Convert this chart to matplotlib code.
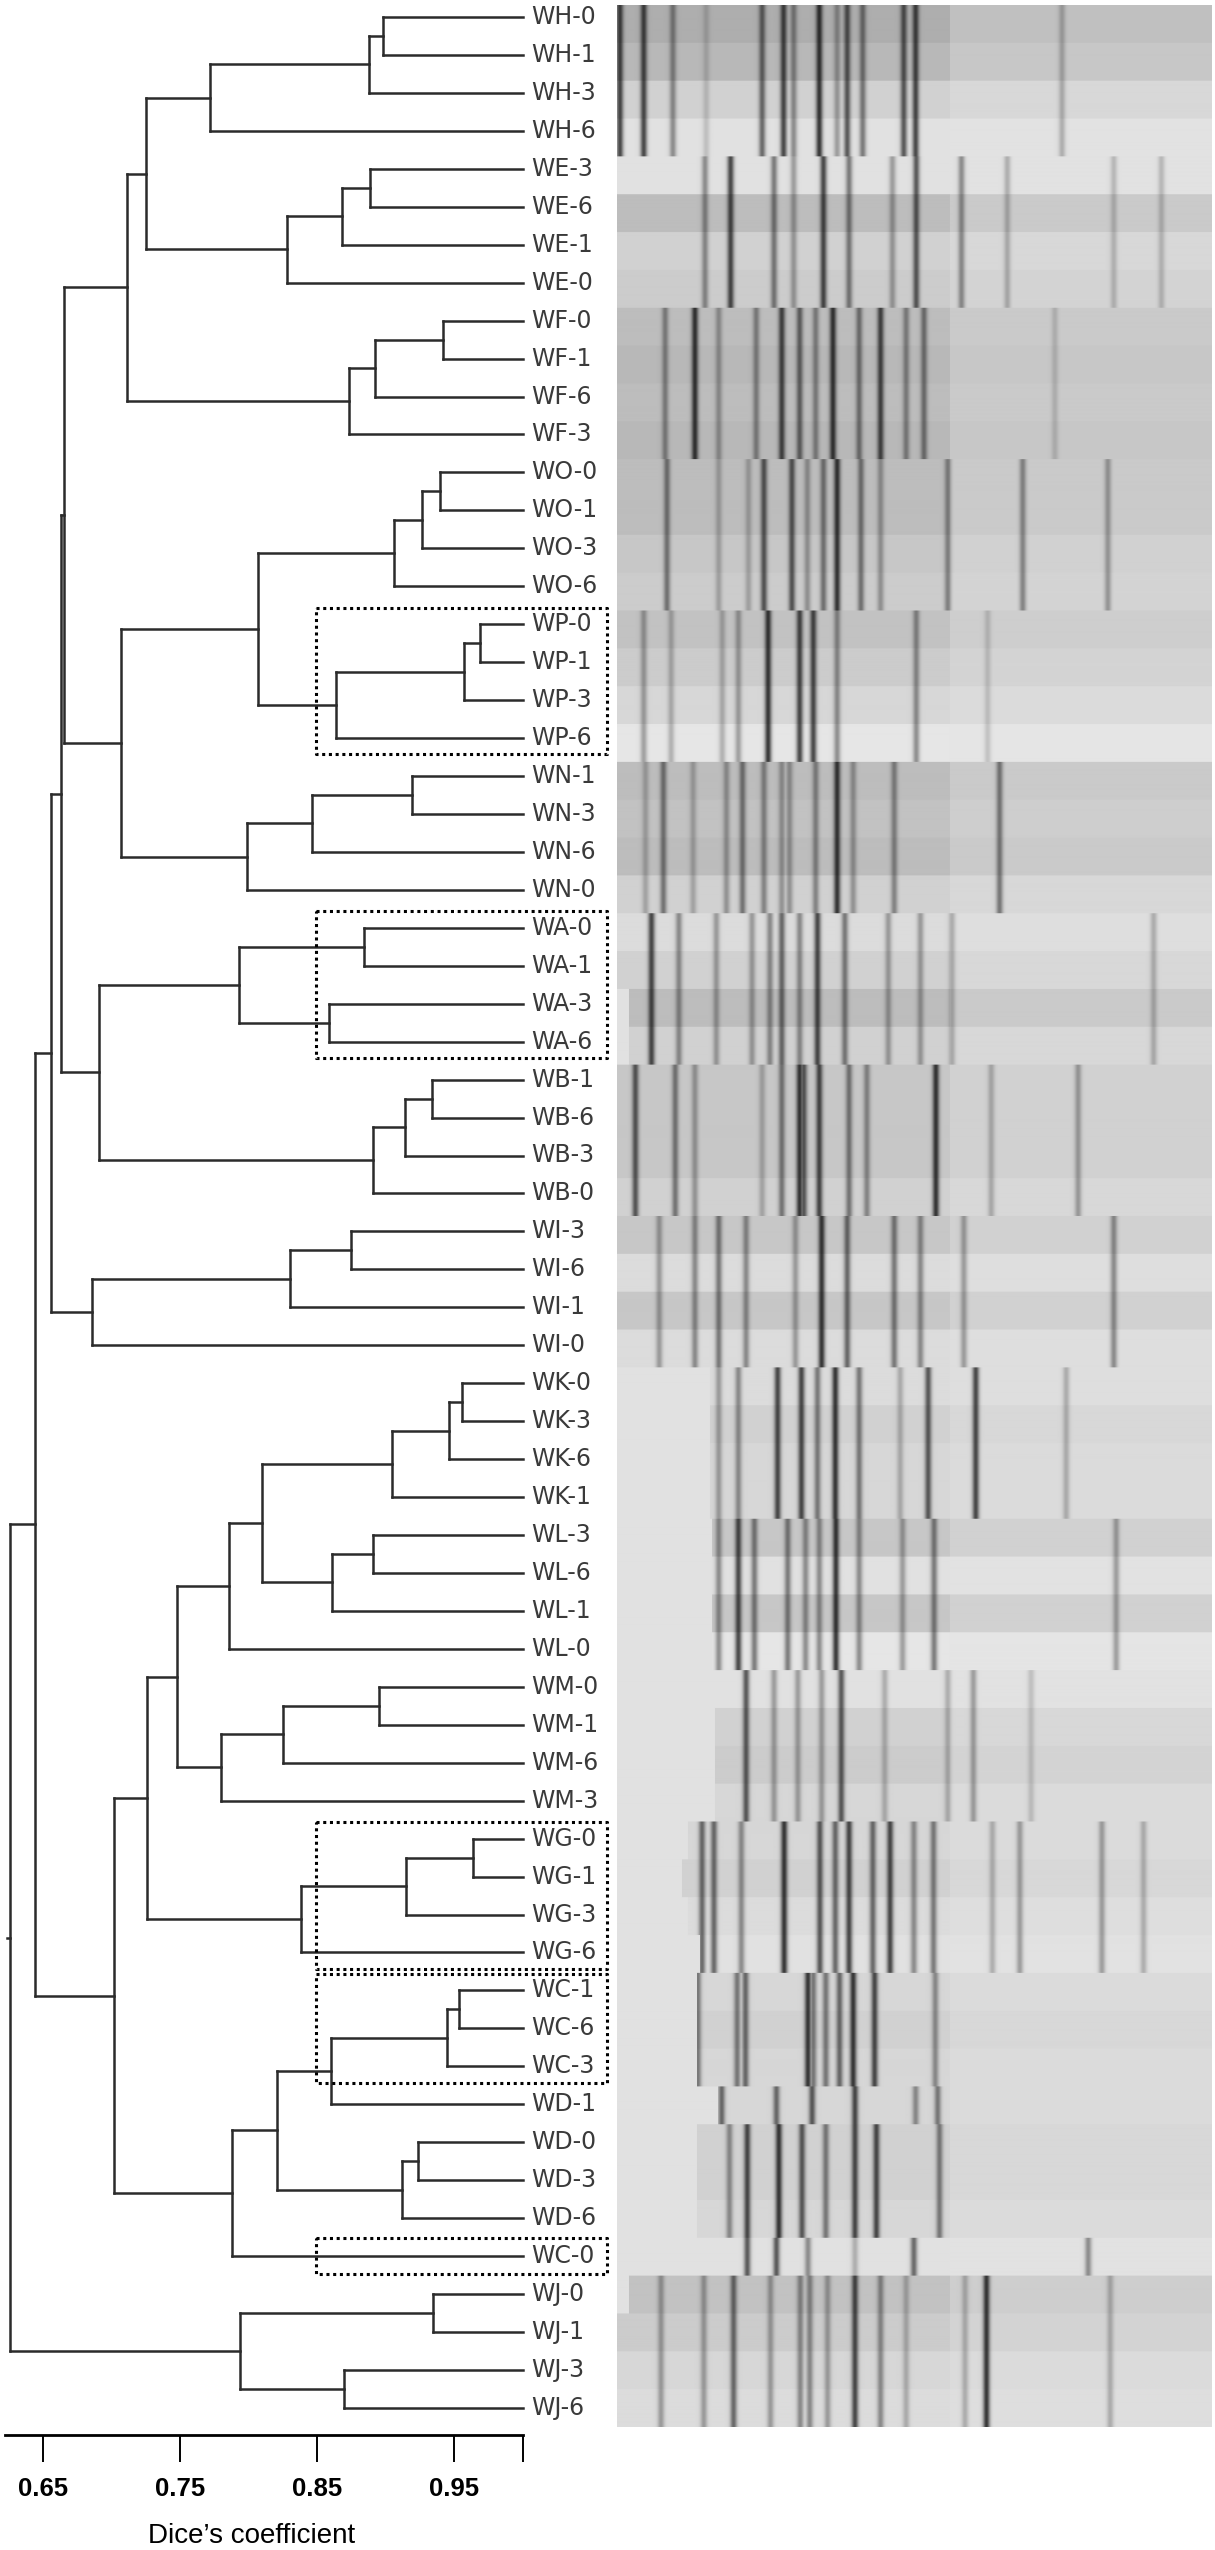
import numpy as np
import matplotlib.pyplot as plt
from matplotlib.collections import LineCollection
from matplotlib.transforms import blended_transform_factory

# 葉の並び（上から下）
leaves = [
    "WH-0", "WH-1", "WH-3", "WH-6", "WE-3", "WE-6", "WE-1", "WE-0",
    "WF-0", "WF-1", "WF-6", "WF-3", "WO-0", "WO-1", "WO-3", "WO-6",
    "WP-0", "WP-1", "WP-3", "WP-6", "WN-1", "WN-3", "WN-6", "WN-0",
    "WA-0", "WA-1", "WA-3", "WA-6", "WB-1", "WB-6", "WB-3", "WB-0",
    "WI-3", "WI-6", "WI-1", "WI-0", "WK-0", "WK-3", "WK-6", "WK-1",
    "WL-3", "WL-6", "WL-1", "WL-0", "WM-0", "WM-1", "WM-6", "WM-3",
    "WG-0", "WG-1", "WG-3", "WG-6", "WC-1", "WC-6", "WC-3", "WD-1",
    "WD-0", "WD-3", "WD-6", "WC-0", "WJ-0", "WJ-1", "WJ-3", "WJ-6",
]

# 結合 (ノード名, 子1, 子2, Dice 係数)
merges = [
    ("H01", "WH-0", "WH-1", 0.898), ("H013", "H01", "WH-3", 0.888),
    ("H", "H013", "WH-6", 0.772),
    ("E36", "WE-3", "WE-6", 0.889), ("E361", "E36", "WE-1", 0.868),
    ("E", "E361", "WE-0", 0.828), ("HE", "H", "E", 0.725),
    ("F01", "WF-0", "WF-1", 0.942), ("F016", "F01", "WF-6", 0.892),
    ("F", "F016", "WF-3", 0.873), ("HEF", "HE", "F", 0.711),
    ("O01", "WO-0", "WO-1", 0.940), ("O013", "O01", "WO-3", 0.927),
    ("O", "O013", "WO-6", 0.906),
    ("P01", "WP-0", "WP-1", 0.969), ("P013", "P01", "WP-3", 0.957),
    ("P", "P013", "WP-6", 0.864), ("OP", "O", "P", 0.807),
    ("N13", "WN-1", "WN-3", 0.919), ("N136", "N13", "WN-6", 0.846),
    ("N", "N136", "WN-0", 0.799), ("OPN", "OP", "N", 0.707),
    ("X1", "HEF", "OPN", 0.665),
    ("A01", "WA-0", "WA-1", 0.884), ("A36", "WA-3", "WA-6", 0.859),
    ("A", "A01", "A36", 0.793),
    ("B16", "WB-1", "WB-6", 0.934), ("B163", "B16", "WB-3", 0.914),
    ("B", "B163", "WB-0", 0.891), ("AB", "A", "B", 0.691),
    ("X2", "X1", "AB", 0.663),
    ("I36", "WI-3", "WI-6", 0.875), ("I361", "I36", "WI-1", 0.830),
    ("I", "I361", "WI-0", 0.686), ("X3", "X2", "I", 0.656),
    ("K03", "WK-0", "WK-3", 0.956), ("K036", "K03", "WK-6", 0.946),
    ("K", "K036", "WK-1", 0.905),
    ("L36", "WL-3", "WL-6", 0.891), ("L", "L36", "WL-1", 0.861),
    ("KL", "K", "L", 0.810), ("KL0", "KL", "WL-0", 0.786),
    ("M01", "WM-0", "WM-1", 0.895), ("M016", "M01", "WM-6", 0.825),
    ("M", "M016", "WM-3", 0.780), ("KLM", "KL0", "M", 0.748),
    ("G01", "WG-0", "WG-1", 0.964), ("G013", "G01", "WG-3", 0.915),
    ("G", "G013", "WG-6", 0.838), ("KLMG", "KLM", "G", 0.726),
    ("C16", "WC-1", "WC-6", 0.954), ("C", "C16", "WC-3", 0.945),
    ("CD1", "C", "WD-1", 0.860),
    ("D03", "WD-0", "WD-3", 0.924), ("D", "D03", "WD-6", 0.912),
    ("CD", "CD1", "D", 0.821), ("CDC0", "CD", "WC-0", 0.788),
    ("Y1", "KLMG", "CDC0", 0.702), ("X4", "X3", "Y1", 0.644),
    ("J01", "WJ-0", "WJ-1", 0.935), ("J36", "WJ-3", "WJ-6", 0.870),
    ("J", "J01", "J36", 0.794), ("root", "X4", "J", 0.626),
]
root_stub = 0.6235

# 点線枠 (最初の葉, 最後の葉)
boxes = [("WP-0", "WP-6"), ("WA-0", "WA-6"), ("WG-0", "WG-6"),
         ("WC-1", "WC-3"), ("WC-0", "WC-0")]

ticks = [0.65, 0.75, 0.85, 0.95, 1.0]
tick_labels = ["0.65", "0.75", "0.85", "0.95", ""]

# ゲル: 各グループのバンド位置 (ゲル幅に対する割合, 濃さ)
bands_WH = [(0.005, 0.9), (0.045, 0.9), (0.094, 0.5), (0.150, 0.2), (0.244, 0.7), (0.280, 0.9),
            (0.297, 0.5), (0.340, 1.0), (0.370, 0.4), (0.387, 0.8), (0.413, 0.6), (0.482, 0.8),
            (0.502, 0.9), (0.748, 0.3)]
bands_WE = [(0.148, 0.5), (0.191, 0.9), (0.264, 0.6), (0.297, 0.4), (0.347, 0.9), (0.390, 0.6),
            (0.463, 0.4), (0.503, 0.8), (0.579, 0.5), (0.656, 0.3), (0.835, 0.25), (0.915, 0.25)]
bands_WF = [(0.081, 0.5), (0.131, 1.0), (0.171, 0.4), (0.234, 0.5), (0.277, 0.9), (0.307, 0.7),
            (0.334, 0.5), (0.363, 1.0), (0.407, 0.6), (0.443, 0.9), (0.486, 0.5), (0.516, 0.6),
            (0.736, 0.2)]
bands_WO = [(0.084, 0.6), (0.171, 0.3), (0.221, 0.3), (0.247, 0.8), (0.294, 0.8), (0.320, 0.4),
            (0.347, 0.6), (0.370, 1.0), (0.410, 0.6), (0.443, 0.4), (0.556, 0.5), (0.682, 0.5),
            (0.825, 0.4)]
bands_WP = [(0.045, 0.4), (0.091, 0.3), (0.177, 0.3), (0.204, 0.4), (0.254, 1.0), (0.307, 0.9),
            (0.330, 0.9), (0.370, 0.5), (0.503, 0.5), (0.623, 0.2)]
bands_WN = [(0.048, 0.3), (0.078, 0.6), (0.128, 0.3), (0.184, 0.4), (0.211, 0.6), (0.247, 0.5),
            (0.277, 0.4), (0.290, 0.4), (0.334, 0.5), (0.370, 1.0), (0.397, 0.4), (0.466, 0.5),
            (0.643, 0.6)]
bands_WA = [(0.058, 0.9), (0.104, 0.5), (0.167, 0.4), (0.227, 0.4), (0.257, 0.5), (0.277, 0.7),
            (0.307, 0.5), (0.337, 0.9), (0.383, 0.6), (0.456, 0.4), (0.510, 0.4), (0.563, 0.3),
            (0.902, 0.3)]
bands_WB = [(0.031, 0.8), (0.098, 0.6), (0.131, 0.4), (0.244, 0.3), (0.277, 0.6), (0.307, 1.0),
            (0.314, 0.8), (0.340, 0.9), (0.390, 0.6), (0.420, 0.5), (0.536, 1.0), (0.629, 0.3),
            (0.775, 0.4)]
bands_WI = [(0.071, 0.4), (0.131, 0.5), (0.171, 0.6), (0.217, 0.5), (0.300, 0.4), (0.344, 1.0),
            (0.387, 0.7), (0.466, 0.6), (0.510, 0.5), (0.583, 0.4), (0.835, 0.5)]
bands_WK = [(0.171, 0.4), (0.204, 0.5), (0.270, 0.9), (0.310, 0.9), (0.337, 0.6), (0.367, 1.0),
            (0.407, 0.6), (0.476, 0.3), (0.523, 0.8), (0.603, 0.9), (0.755, 0.3)]
bands_WL = [(0.171, 0.5), (0.204, 0.9), (0.231, 0.6), (0.287, 0.6), (0.317, 0.5), (0.340, 0.5),
            (0.368, 1.0), (0.407, 0.5), (0.480, 0.4), (0.533, 0.6), (0.839, 0.4)]
bands_WM = [(0.217, 0.8), (0.264, 0.4), (0.304, 0.4), (0.344, 0.4), (0.377, 0.8), (0.450, 0.3),
            (0.556, 0.3), (0.599, 0.4), (0.696, 0.2)]
bands_WG = [(0.143, 0.7), (0.163, 0.7), (0.209, 0.5), (0.281, 1.0), (0.341, 0.8), (0.367, 0.7),
            (0.390, 0.9), (0.430, 0.7), (0.459, 0.9), (0.499, 0.5), (0.532, 0.6), (0.631, 0.3),
            (0.677, 0.4), (0.815, 0.4), (0.885, 0.3)]
bands_WC = [(0.136, 0.6), (0.202, 0.6), (0.216, 0.7), (0.321, 1.0), (0.330, 0.6), (0.351, 0.6),
            (0.374, 0.7), (0.397, 1.0), (0.433, 0.9), (0.535, 0.5)]
bands_WD1 = [(0.176, 0.7), (0.268, 0.7), (0.328, 0.8), (0.400, 0.9), (0.502, 0.5), (0.539, 0.6)]
bands_WD = [(0.189, 0.5), (0.219, 0.9), (0.272, 1.0), (0.311, 0.8), (0.351, 0.6), (0.400, 0.9),
            (0.436, 0.9), (0.542, 0.6)]
bands_WC0 = [(0.219, 0.8), (0.268, 0.8), (0.321, 0.5), (0.400, 0.3), (0.499, 0.7), (0.792, 0.5)]
bands_WJ = [(0.074, 0.4), (0.146, 0.4), (0.196, 0.7), (0.258, 0.4), (0.308, 0.5), (0.324, 0.5),
            (0.354, 0.4), (0.400, 0.9), (0.443, 0.5), (0.486, 0.3), (0.585, 0.3), (0.621, 1.0),
            (0.829, 0.3)]

group_names = ["WH", "WE", "WF", "WO", "WP", "WN", "WA", "WB", "WI", "WK", "WL", "WM",
               "WG", "WC", "WD1", "WD", "WC0", "WJ"]
group_sizes = [4, 4, 4, 4, 4, 4, 4, 4, 4, 4, 4, 4, 4, 3, 1, 3, 1, 4]

# レーンごとの背景の明るさ (0=黒, 1=白) とバンド開始位置
lane_bg = [0.66, 0.70, 0.80, 0.86, 0.86, 0.72, 0.80, 0.78,
           0.72, 0.70, 0.72, 0.70, 0.72, 0.72, 0.76, 0.78,
           0.74, 0.78, 0.82, 0.88, 0.72, 0.74, 0.72, 0.80,
           0.84, 0.80, 0.72, 0.80, 0.76, 0.76, 0.76, 0.80,
           0.76, 0.84, 0.76, 0.84, 0.84, 0.80, 0.82, 0.82,
           0.76, 0.86, 0.76, 0.88, 0.86, 0.80, 0.78, 0.82,
           0.82, 0.80, 0.84, 0.86, 0.82, 0.80, 0.82, 0.82,
           0.80, 0.80, 0.82, 0.86, 0.74, 0.78, 0.82, 0.84]
lane_start = [0.0] * 24 + [0.0, 0.0, 0.02, 0.02] + [0.0] * 8 \
    + [0.157] * 4 + [0.16] * 4 + [0.165] * 4 \
    + [0.12, 0.11, 0.12, 0.14] + [0.135] * 3 + [0.17] + [0.135] * 3 + [0.13] \
    + [0.02, 0.0, 0.0, 0.0]


def build_tree():
    pos = {name: (1.0, i) for i, name in enumerate(leaves)}
    segs = []
    for name, a, b, h in merges:
        xa, ya = pos[a]
        xb, yb = pos[b]
        segs.append([(xa, ya), (h, ya)])
        segs.append([(xb, yb), (h, yb)])
        segs.append([(h, ya), (h, yb)])
        pos[name] = (h, (ya + yb) / 2)
    rx, ry = pos["root"]
    segs.append([(rx, ry), (root_stub, ry)])
    return segs


def build_gel(width=595, lane_h=38):
    lookup = {"WH": bands_WH, "WE": bands_WE, "WF": bands_WF, "WO": bands_WO,
              "WP": bands_WP, "WN": bands_WN, "WA": bands_WA, "WB": bands_WB,
              "WI": bands_WI, "WK": bands_WK, "WL": bands_WL, "WM": bands_WM,
              "WG": bands_WG, "WC": bands_WC, "WD1": bands_WD1, "WD": bands_WD,
              "WC0": bands_WC0, "WJ": bands_WJ}
    lane_group = []
    for g, n in zip(group_names, group_sizes):
        lane_group += [g] * n
    f = (np.arange(width) + 0.5) / width
    sigma = 2.4 / width
    img = np.zeros((len(leaves) * lane_h, width))
    for i, g in enumerate(lane_group):
        bg = lane_bg[i] + 0.02
        row = np.full(width, bg)
        right = f > 0.56
        row[right] = bg + (0.89 - bg) * 0.35
        dark = np.zeros(width)
        for fb, s in lookup[g]:
            dark = np.maximum(dark, s * np.exp(-0.5 * ((f - fb) / sigma) ** 2))
        row = row * (1 - 0.74 * dark)
        row[f < lane_start[i]] = 0.88
        img[i * lane_h:(i + 1) * lane_h] = row
    return img


def main():
    W, H = 1215, 2550
    fig = plt.figure(figsize=(W / 100, H / 100), dpi=100)

    # デンドログラム
    axis_y = 2435
    ax = fig.add_axes([1.9 / W, (H - axis_y) / H, (632 - 1.9) / W, axis_y / H])
    x0 = 0.65 - 41.1 / 1370
    ax.set_xlim(x0, x0 + 630.1 / 1370)
    ax.set_ylim(axis_y / 37.95 - 17 / 37.95, -17 / 37.95)

    lc = LineCollection(build_tree(), colors="#2b2b2b", linewidths=1.8,
                        capstyle="projecting")
    ax.add_collection(lc)

    for i, name in enumerate(leaves):
        ax.text(1.0065, i, name, va="center", ha="left", fontsize=17,
                color="#3a3a3a", family="DejaVu Sans")

    for first, last in boxes:
        y1 = leaves.index(first) - 0.43
        y2 = leaves.index(last) + 0.43
        if first == last:
            y1, y2 = y1 - 0.05, y2 + 0.05
        xs = [0.849, 1.0617, 1.0617, 0.849, 0.849]
        ys = [y1, y1, y2, y2, y1]
        ax.plot(xs, ys, color="black", lw=2.2, linestyle=(0, (1, 1.2)),
                clip_on=False)

    for sp in ["top", "right", "left"]:
        ax.spines[sp].set_visible(False)
    ax.spines["bottom"].set_bounds(0.6226, 1.0)
    ax.spines["bottom"].set_linewidth(2.0)
    ax.spines["bottom"].set_color("black")
    ax.set_yticks([])
    ax.set_xticks(ticks)
    ax.set_xticklabels(tick_labels, fontsize=18.5, fontweight="bold",
                       family="Liberation Sans")
    ax.tick_params(axis="x", direction="out", length=19.4, width=1.4,
                   pad=11, colors="black")
    ax.patch.set_alpha(0)

    trans = blended_transform_factory(ax.transData, fig.transFigure)
    ax.text(0.8026, 7 / H, "Dice\u2019s coefficient", transform=trans,
            ha="center", va="baseline", fontsize=20, family="Liberation Sans")

    # ゲル画像
    gx0, gx1, gy0, gy1 = 617, 1212, 5, 2427
    gax = fig.add_axes([gx0 / W, (H - gy1) / H, (gx1 - gx0) / W, (gy1 - gy0) / H])
    gax.imshow(build_gel(), cmap="gray", vmin=0, vmax=1, aspect="auto",
               interpolation="bilinear")
    gax.axis("off")

    fig.savefig("out.png", dpi=100)


if __name__ == "__main__":
    main()
